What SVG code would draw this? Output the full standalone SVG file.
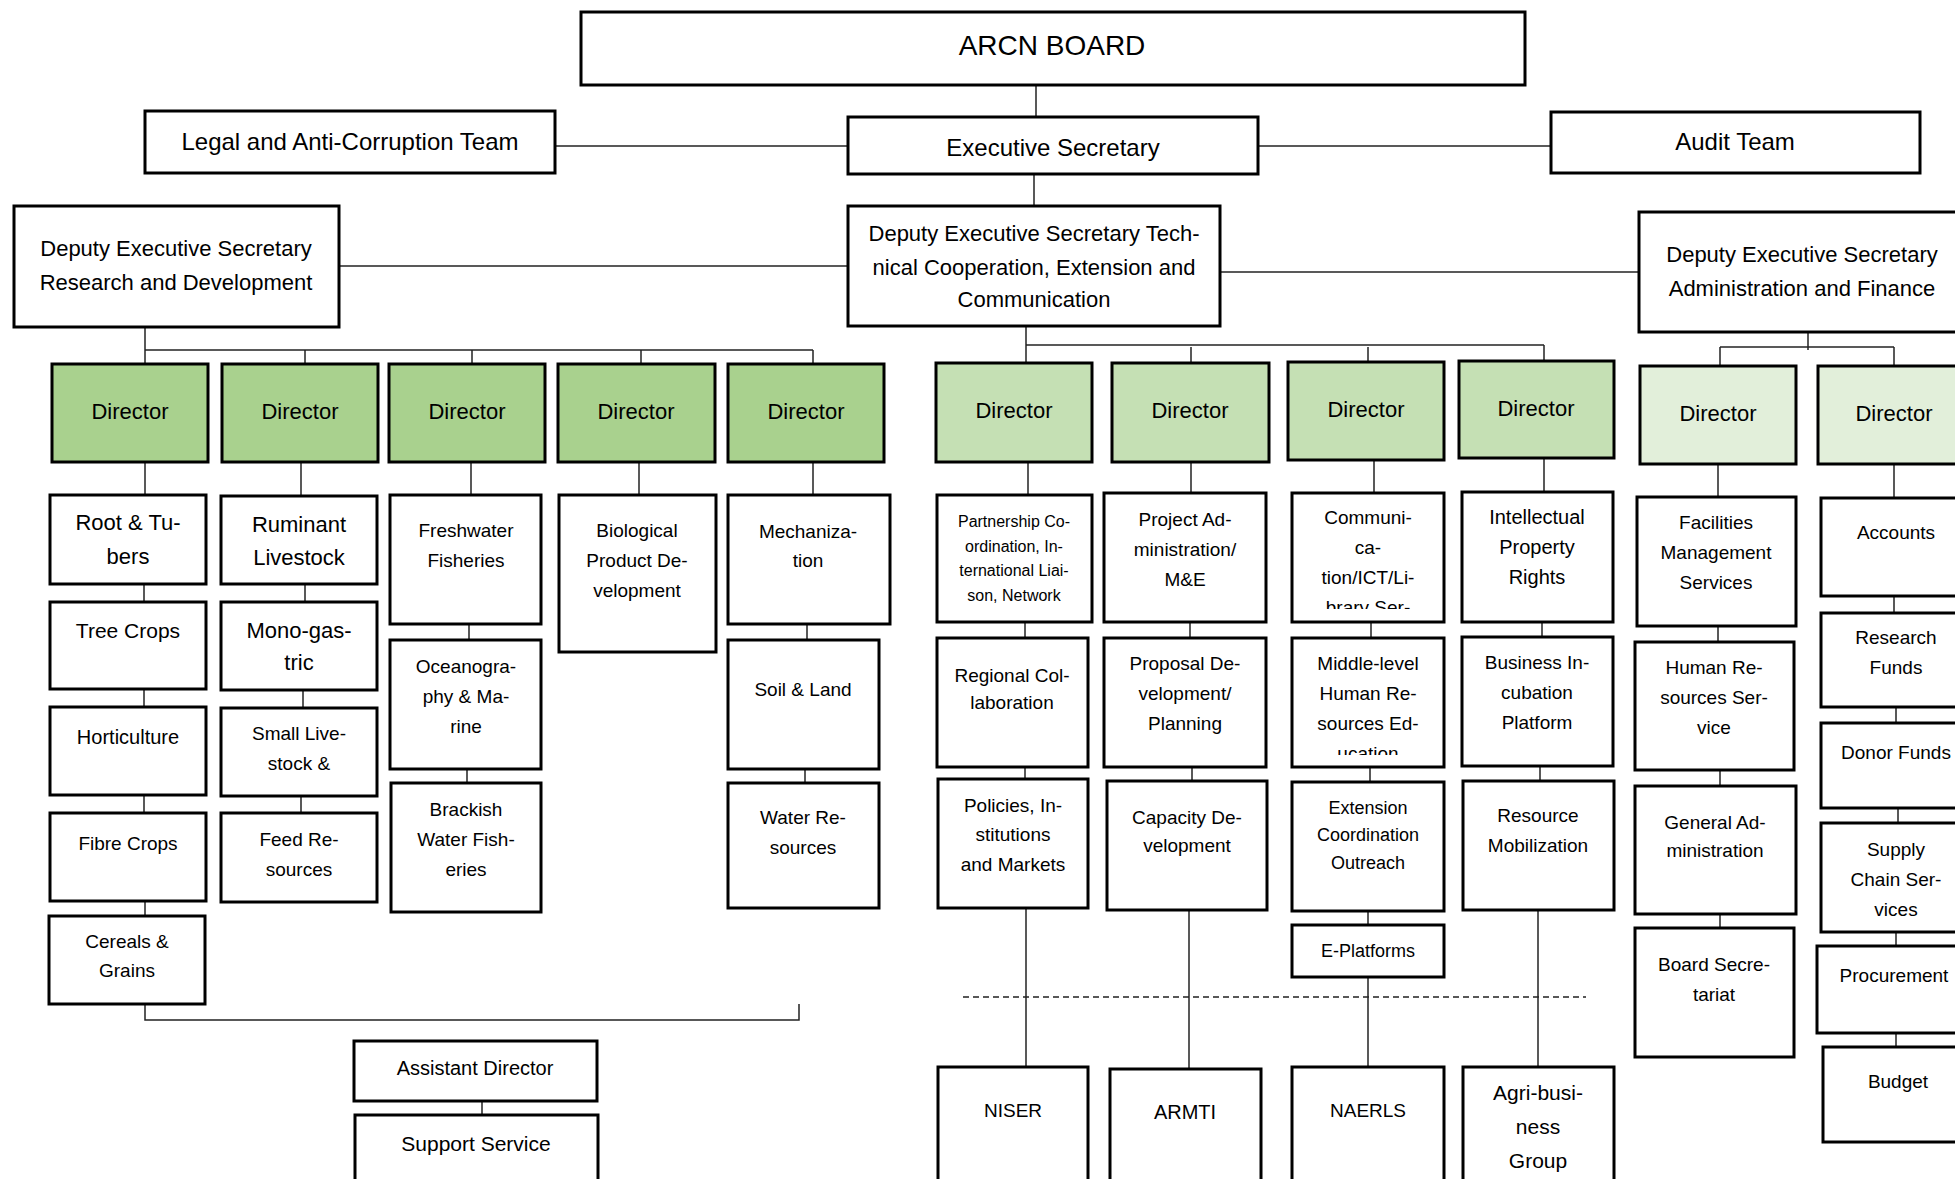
<svg xmlns="http://www.w3.org/2000/svg" width="1955" height="1179" viewBox="0 0 1955 1179">
<style>
.box{fill:#fff;stroke:#000;stroke-width:3}
.g1{fill:#a9d18e;stroke:#000;stroke-width:3}
.g2{fill:#c5e0b4;stroke:#000;stroke-width:3}
.g3{fill:#e2efda;stroke:#000;stroke-width:3}
.conn line,.conn path{stroke:#222;stroke-width:1.5;fill:none}
.dash{stroke:#000;stroke-width:1.5;stroke-dasharray:6 4}
text{font-family:"Liberation Sans",Arial,sans-serif;fill:#000;text-anchor:middle}
.s28{font-size:28px}.s24{font-size:24px}.s22{font-size:22px}.s21{font-size:21px}.s20{font-size:20px}.s19{font-size:19px}.s18{font-size:18px}.s16{font-size:16px}
</style>
<defs>
<clipPath id="clipComm"><rect x="1292" y="493" width="152" height="116"/></clipPath>
<clipPath id="clipMid"><rect x="1292" y="638" width="152" height="117"/></clipPath>
</defs>
<rect x="0" y="0" width="1955" height="1179" fill="#fff"/>

<g class="conn">
<line x1="1036" y1="85" x2="1036" y2="117"/>
<line x1="555" y1="146" x2="848" y2="146"/>
<line x1="1258" y1="146" x2="1551" y2="146"/>
<line x1="1034" y1="174" x2="1034" y2="206"/>
<line x1="339" y1="266" x2="848" y2="266"/>
<line x1="1220" y1="272" x2="1639" y2="272"/>
<line x1="145" y1="327" x2="145" y2="364"/>
<line x1="145" y1="350" x2="813" y2="350"/>
<line x1="305" y1="350" x2="305" y2="364"/>
<line x1="472" y1="350" x2="472" y2="364"/>
<line x1="641" y1="350" x2="641" y2="364"/>
<line x1="813" y1="350" x2="813" y2="364"/>
<line x1="1026" y1="326" x2="1026" y2="363"/>
<line x1="1026" y1="345" x2="1544" y2="345"/>
<line x1="1191" y1="347" x2="1191" y2="363"/>
<line x1="1368" y1="347" x2="1368" y2="362"/>
<line x1="1544" y1="345" x2="1544" y2="361"/>
<line x1="1808" y1="332" x2="1808" y2="350"/>
<line x1="1720" y1="347" x2="1894" y2="347"/>
<line x1="1720" y1="347" x2="1720" y2="366"/>
<line x1="1894" y1="347" x2="1894" y2="366"/>
<line x1="145" y1="462" x2="145" y2="495"/>
<line x1="144" y1="584" x2="144" y2="602"/>
<line x1="144" y1="689" x2="144" y2="707"/>
<line x1="144" y1="795" x2="144" y2="813"/>
<line x1="145" y1="901" x2="145" y2="916"/>
<line x1="301" y1="462" x2="301" y2="496"/>
<line x1="305" y1="584" x2="305" y2="602"/>
<line x1="303" y1="690" x2="303" y2="708"/>
<line x1="301" y1="796" x2="301" y2="813"/>
<line x1="471" y1="462" x2="471" y2="495"/>
<line x1="469" y1="624" x2="469" y2="640"/>
<line x1="467" y1="769" x2="467" y2="783"/>
<line x1="639" y1="462" x2="639" y2="495"/>
<line x1="813" y1="462" x2="813" y2="495"/>
<line x1="807" y1="624" x2="807" y2="640"/>
<line x1="805" y1="769" x2="805" y2="783"/>
<line x1="1028" y1="462" x2="1028" y2="495"/>
<line x1="1025" y1="622" x2="1025" y2="638"/>
<line x1="1025" y1="767" x2="1025" y2="779"/>
<line x1="1026" y1="908" x2="1026" y2="1067"/>
<line x1="1191" y1="462" x2="1191" y2="493"/>
<line x1="1190" y1="622" x2="1190" y2="638"/>
<line x1="1192" y1="767" x2="1192" y2="781"/>
<line x1="1189" y1="910" x2="1189" y2="1069"/>
<line x1="1374" y1="460" x2="1374" y2="493"/>
<line x1="1371" y1="622" x2="1371" y2="638"/>
<line x1="1370" y1="767" x2="1370" y2="782"/>
<line x1="1368" y1="911" x2="1368" y2="925"/>
<line x1="1368" y1="977" x2="1368" y2="1067"/>
<line x1="1544" y1="458" x2="1544" y2="492"/>
<line x1="1542" y1="622" x2="1542" y2="637"/>
<line x1="1540" y1="766" x2="1540" y2="781"/>
<line x1="1538" y1="910" x2="1538" y2="1067"/>
<line x1="1718" y1="464" x2="1718" y2="497"/>
<line x1="1718" y1="626" x2="1718" y2="642"/>
<line x1="1720" y1="770" x2="1720" y2="786"/>
<line x1="1720" y1="914" x2="1720" y2="928"/>
<line x1="1894" y1="464" x2="1894" y2="498"/>
<line x1="1894" y1="596" x2="1894" y2="613"/>
<line x1="1896" y1="707" x2="1896" y2="723"/>
<line x1="1898" y1="808" x2="1898" y2="823"/>
<line x1="1896" y1="932" x2="1896" y2="946"/>
<line x1="1896" y1="1033" x2="1896" y2="1047"/>
<path d="M145 1004 V1020 H799 V1004"/>
<line x1="482" y1="1101" x2="482" y2="1115"/>
<line class="dash" x1="963" y1="997" x2="1586" y2="997"/>
</g>

<g id="arcn-board"><rect class="box" x="581" y="12" width="944" height="73"/><text class="s28" x="1052" y="55">ARCN BOARD</text></g>
<g id="legal"><rect class="box" x="145" y="111" width="410" height="62"/><text class="s24" x="350" y="150">Legal and Anti-Corruption Team</text></g>
<g id="exec-sec"><rect class="box" x="848" y="117" width="410" height="57"/><text class="s24" x="1053" y="156">Executive Secretary</text></g>
<g id="audit"><rect class="box" x="1551" y="112" width="369" height="61"/><text class="s24" x="1735" y="150">Audit Team</text></g>
<g id="des-rd"><rect class="box" x="14" y="206" width="325" height="121"/><text class="s22" x="176" y="256">Deputy Executive Secretary</text><text class="s22" x="176" y="290">Research and Development</text></g>
<g id="des-tech"><rect class="box" x="848" y="206" width="372" height="120"/><text class="s22" x="1034" y="241">Deputy Executive Secretary Tech-</text><text class="s22" x="1034" y="275">nical Cooperation, Extension and</text><text class="s22" x="1034" y="307">Communication</text></g>
<g id="des-admin"><rect class="box" x="1639" y="212" width="330" height="120"/><text class="s22" x="1802" y="262">Deputy Executive Secretary</text><text class="s22" x="1802" y="296">Administration and Finance</text></g>

<g id="dir-rd1"><rect class="g1" x="52" y="364" width="156" height="98"/><text class="s22" x="130" y="419">Director</text></g>
<g id="dir-rd2"><rect class="g1" x="222" y="364" width="156" height="98"/><text class="s22" x="300" y="419">Director</text></g>
<g id="dir-rd3"><rect class="g1" x="389" y="364" width="156" height="98"/><text class="s22" x="467" y="419">Director</text></g>
<g id="dir-rd4"><rect class="g1" x="558" y="364" width="157" height="98"/><text class="s22" x="636" y="419">Director</text></g>
<g id="dir-rd5"><rect class="g1" x="728" y="364" width="156" height="98"/><text class="s22" x="806" y="419">Director</text></g>
<g id="dir-t1"><rect class="g2" x="936" y="363" width="156" height="99"/><text class="s22" x="1014" y="418">Director</text></g>
<g id="dir-t2"><rect class="g2" x="1112" y="363" width="157" height="99"/><text class="s22" x="1190" y="418">Director</text></g>
<g id="dir-t3"><rect class="g2" x="1288" y="362" width="156" height="98"/><text class="s22" x="1366" y="417">Director</text></g>
<g id="dir-t4"><rect class="g2" x="1459" y="361" width="155" height="97"/><text class="s22" x="1536" y="416">Director</text></g>
<g id="dir-a1"><rect class="g3" x="1640" y="366" width="156" height="98"/><text class="s22" x="1718" y="421">Director</text></g>
<g id="dir-a2"><rect class="g3" x="1818" y="366" width="152" height="98"/><text class="s22" x="1894" y="421">Director</text></g>

<g id="root-tubers"><rect class="box" x="50" y="495" width="156" height="89"/><text class="s22" x="128" y="530">Root &amp; Tu-</text><text class="s22" x="128" y="564">bers</text></g>
<g id="tree-crops"><rect class="box" x="50" y="602" width="156" height="87"/><text class="s21" x="128" y="638">Tree Crops</text></g>
<g id="horticulture"><rect class="box" x="50" y="707" width="156" height="88"/><text class="s20" x="128" y="744">Horticulture</text></g>
<g id="fibre-crops"><rect class="box" x="50" y="813" width="156" height="88"/><text class="s19" x="128" y="850">Fibre Crops</text></g>
<g id="cereals"><rect class="box" x="49" y="916" width="156" height="88"/><text class="s19" x="127" y="948">Cereals &amp;</text><text class="s19" x="127" y="977">Grains</text></g>

<g id="ruminant"><rect class="box" x="221" y="496" width="156" height="88"/><text class="s22" x="299" y="532">Ruminant</text><text class="s22" x="299" y="565">Livestock</text></g>
<g id="mono-gastric"><rect class="box" x="221" y="602" width="156" height="88"/><text class="s22" x="299" y="638">Mono-gas-</text><text class="s22" x="299" y="670">tric</text></g>
<g id="small-livestock"><rect class="box" x="221" y="708" width="156" height="88"/><text class="s19" x="299" y="740">Small Live-</text><text class="s19" x="299" y="770">stock &amp;</text></g>
<g id="feed-resources"><rect class="box" x="221" y="813" width="156" height="89"/><text class="s19" x="299" y="846">Feed Re-</text><text class="s19" x="299" y="876">sources</text></g>

<g id="freshwater"><rect class="box" x="390" y="495" width="151" height="129"/><text class="s19" x="466" y="537">Freshwater</text><text class="s19" x="466" y="567">Fisheries</text></g>
<g id="oceanography"><rect class="box" x="390" y="640" width="151" height="129"/><text class="s19" x="466" y="673">Oceanogra-</text><text class="s19" x="466" y="703">phy &amp; Ma-</text><text class="s19" x="466" y="733">rine</text></g>
<g id="brackish"><rect class="box" x="391" y="783" width="150" height="129"/><text class="s19" x="466" y="816">Brackish</text><text class="s19" x="466" y="846">Water Fish-</text><text class="s19" x="466" y="876">eries</text></g>

<g id="biological"><rect class="box" x="559" y="495" width="157" height="157"/><text class="s19" x="637" y="537">Biological</text><text class="s19" x="637" y="567">Product De-</text><text class="s19" x="637" y="597">velopment</text></g>

<g id="mechanization"><rect class="box" x="728" y="495" width="162" height="129"/><text class="s19" x="808" y="538">Mechaniza-</text><text class="s19" x="808" y="567">tion</text></g>
<g id="soil-land"><rect class="box" x="728" y="640" width="151" height="129"/><text class="s19" x="803" y="696">Soil &amp; Land</text></g>
<g id="water-resources"><rect class="box" x="728" y="783" width="151" height="125"/><text class="s19" x="803" y="824">Water Re-</text><text class="s19" x="803" y="854">sources</text></g>

<g id="partnership"><rect class="box" x="937" y="495" width="155" height="127"/><text class="s16" x="1014" y="527">Partnership Co-</text><text class="s16" x="1014" y="552">ordination, In-</text><text class="s16" x="1014" y="576">ternational Liai-</text><text class="s16" x="1014" y="601">son, Network</text></g>
<g id="regional"><rect class="box" x="937" y="638" width="151" height="129"/><text class="s19" x="1012" y="682">Regional Col-</text><text class="s19" x="1012" y="709">laboration</text></g>
<g id="policies"><rect class="box" x="938" y="779" width="150" height="129"/><text class="s19" x="1013" y="812">Policies, In-</text><text class="s19" x="1013" y="841">stitutions</text><text class="s19" x="1013" y="871">and Markets</text></g>
<g id="niser"><rect class="box" x="938" y="1067" width="150" height="140"/><text class="s19" x="1013" y="1117">NISER</text></g>

<g id="project-admin"><rect class="box" x="1104" y="493" width="162" height="129"/><text class="s19" x="1185" y="526">Project Ad-</text><text class="s19" x="1185" y="556">ministration/</text><text class="s19" x="1185" y="586">M&amp;E</text></g>
<g id="proposal"><rect class="box" x="1104" y="638" width="162" height="129"/><text class="s19" x="1185" y="670">Proposal De-</text><text class="s19" x="1185" y="700">velopment/</text><text class="s19" x="1185" y="730">Planning</text></g>
<g id="capacity"><rect class="box" x="1107" y="781" width="160" height="129"/><text class="s19" x="1187" y="824">Capacity De-</text><text class="s19" x="1187" y="852">velopment</text></g>
<g id="armti"><rect class="box" x="1110" y="1069" width="151" height="140"/><text class="s20" x="1185" y="1119">ARMTI</text></g>

<g id="communication"><rect class="box" x="1292" y="493" width="152" height="129"/><g clip-path="url(#clipComm)"><text class="s19" x="1368" y="524">Communi-</text><text class="s19" x="1368" y="554">ca-</text><text class="s19" x="1368" y="584">tion/ICT/Li-</text><text class="s19" x="1368" y="614">brary Ser-</text></g></g>
<g id="middle-level"><rect class="box" x="1292" y="638" width="152" height="129"/><g clip-path="url(#clipMid)"><text class="s19" x="1368" y="670">Middle-level</text><text class="s19" x="1368" y="700">Human Re-</text><text class="s19" x="1368" y="730">sources Ed-</text><text class="s19" x="1368" y="760">ucation</text></g></g>
<g id="extension"><rect class="box" x="1292" y="782" width="152" height="129"/><text class="s18" x="1368" y="814">Extension</text><text class="s18" x="1368" y="841">Coordination</text><text class="s18" x="1368" y="869">Outreach</text></g>
<g id="e-platforms"><rect class="box" x="1292" y="925" width="152" height="52"/><text class="s18" x="1368" y="957">E-Platforms</text></g>
<g id="naerls"><rect class="box" x="1292" y="1067" width="152" height="140"/><text class="s19" x="1368" y="1117">NAERLS</text></g>

<g id="intellectual"><rect class="box" x="1462" y="492" width="151" height="130"/><text class="s20" x="1537" y="524">Intellectual</text><text class="s20" x="1537" y="554">Property</text><text class="s20" x="1537" y="584">Rights</text></g>
<g id="business"><rect class="box" x="1462" y="637" width="151" height="129"/><text class="s19" x="1537" y="669">Business In-</text><text class="s19" x="1537" y="699">cubation</text><text class="s19" x="1537" y="729">Platform</text></g>
<g id="resource"><rect class="box" x="1463" y="781" width="151" height="129"/><text class="s19" x="1538" y="822">Resource</text><text class="s19" x="1538" y="852">Mobilization</text></g>
<g id="agri-business"><rect class="box" x="1463" y="1067" width="151" height="140"/><text class="s21" x="1538" y="1100">Agri-busi-</text><text class="s21" x="1538" y="1134">ness</text><text class="s21" x="1538" y="1168">Group</text></g>

<g id="facilities"><rect class="box" x="1637" y="497" width="159" height="129"/><text class="s19" x="1716" y="529">Facilities</text><text class="s19" x="1716" y="559">Management</text><text class="s19" x="1716" y="589">Services</text></g>
<g id="human-resources"><rect class="box" x="1635" y="642" width="159" height="128"/><text class="s19" x="1714" y="674">Human Re-</text><text class="s19" x="1714" y="704">sources Ser-</text><text class="s19" x="1714" y="734">vice</text></g>
<g id="general-admin"><rect class="box" x="1635" y="786" width="161" height="128"/><text class="s19" x="1715" y="829">General Ad-</text><text class="s19" x="1715" y="857">ministration</text></g>
<g id="board-secretariat"><rect class="box" x="1635" y="928" width="159" height="129"/><text class="s19" x="1714" y="971">Board Secre-</text><text class="s19" x="1714" y="1001">tariat</text></g>

<g id="accounts"><rect class="box" x="1821" y="498" width="149" height="98"/><text class="s19" x="1896" y="539">Accounts</text></g>
<g id="research-funds"><rect class="box" x="1821" y="613" width="149" height="94"/><text class="s19" x="1896" y="644">Research</text><text class="s19" x="1896" y="674">Funds</text></g>
<g id="donor-funds"><rect class="box" x="1821" y="723" width="149" height="85"/><text class="s19" x="1896" y="759">Donor Funds</text></g>
<g id="supply-chain"><rect class="box" x="1821" y="823" width="149" height="109"/><text class="s19" x="1896" y="856">Supply</text><text class="s19" x="1896" y="886">Chain Ser-</text><text class="s19" x="1896" y="916">vices</text></g>
<g id="procurement"><rect class="box" x="1817" y="946" width="153" height="87"/><text class="s19" x="1894" y="982">Procurement</text></g>
<g id="budget"><rect class="box" x="1823" y="1047" width="147" height="95"/><text class="s19" x="1898" y="1088">Budget</text></g>

<g id="assistant-director"><rect class="box" x="354" y="1041" width="243" height="60"/><text class="s20" x="475" y="1075">Assistant Director</text></g>
<g id="support-service"><rect class="box" x="355" y="1115" width="243" height="90"/><text class="s21" x="476" y="1151">Support Service</text></g>
</svg>
